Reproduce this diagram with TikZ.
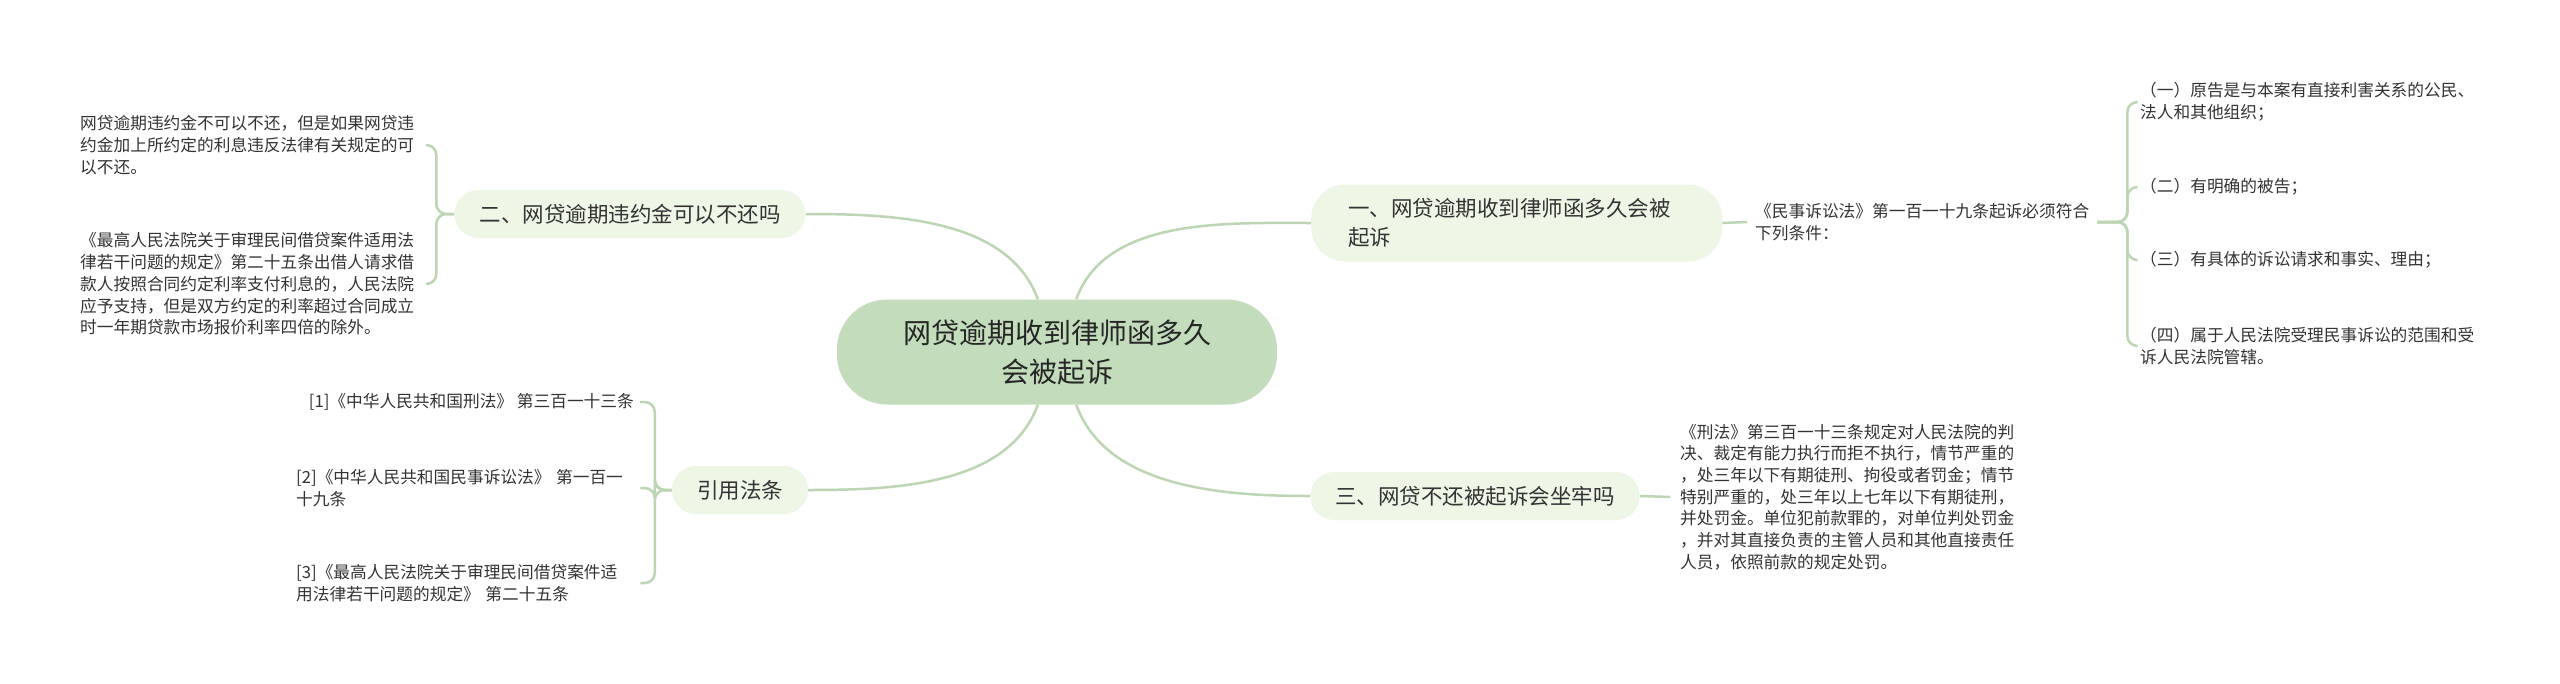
\documentclass[tikz,border=0pt]{standalone}
\usepackage{fontspec}
\setmainfont{Noto Sans CJK SC}
\usetikzlibrary{backgrounds}
\definecolor{rootfill}{HTML}{C2DCBC}
\definecolor{subfill}{HTML}{EEF6E6}
\definecolor{linkcol}{HTML}{BCD6B3}
\definecolor{txt}{HTML}{333333}
\begin{document}
\begin{tikzpicture}[x=1pt,y=1pt,
  root/.style={fill=rootfill,rounded corners=50pt,minimum width=440pt,minimum height=105pt,align=center,font=\fontsize{28}{39}\selectfont,text=black!85},
  sub/.style={fill=subfill,rounded corners=24pt,minimum height=48pt,inner xsep=25pt,font=\fontsize{21.5}{29}\selectfont,text=txt},
  leaf/.style={align=left,inner xsep=6pt,inner ysep=2pt,font=\fontsize{16.7}{21.7}\selectfont,text=txt},
  link/.style={draw=linkcol,line width=2.5pt},
  brace/.style={link,rounded corners=10pt}]
\useasboundingbox (0,0) rectangle (2560,-683);
\node[root] (root) at (1057,-352) {网贷逾期收到律师函多久\\会被起诉};
\node[sub,anchor=west,align=left,text width=337pt,inner xsep=37pt,minimum height=77pt,rounded corners=34pt] (n1) at (1311,-223) {一、网贷逾期收到律师函多久会被\\起诉};
\node[sub] (n2) at (630,-214) {二、网贷逾期违约金可以不还吗};
\node[sub] (n3) at (1475,-496) {三、网贷不还被起诉会坐牢吗};
\node[sub] (n4) at (740,-490) {引用法条};
\node[leaf,anchor=west,inner xsep=8pt] (l1) at (1747,-222) {《民事诉讼法》第一百一十九条起诉必须符合\\下列条件：};
\node[leaf,anchor=west,inner xsep=4pt] (l11) at (2136,-102) {（一）原告是与本案有直接利害关系的公民、\\法人和其他组织；};
\node[leaf,anchor=west,inner xsep=4pt] (l12) at (2136,-187) {（二）有明确的被告；};
\node[leaf,anchor=west,inner xsep=4pt] (l13) at (2136,-260) {（三）有具体的诉讼请求和事实、理由；};
\node[leaf,anchor=west,inner xsep=4pt] (l14) at (2136,-346) {（四）属于人民法院受理民事诉讼的范围和受\\诉人民法院管辖。};
\node[leaf,anchor=west,inner xsep=10pt] (l3) at (1670,-497) {《刑法》第三百一十三条规定对人民法院的判\\决、裁定有能力执行而拒不执行，情节严重的\\，处三年以下有期徒刑、拘役或者罚金；情节\\特别严重的，处三年以上七年以下有期徒刑，\\并处罚金。单位犯前款罪的，对单位判处罚金\\，并对其直接负责的主管人员和其他直接责任\\人员，依照前款的规定处罚。};
\node[leaf,anchor=west,text width=338pt,inner xsep=8pt] (l21) at (72,-145) {网贷逾期违约金不可以不还，但是如果网贷违\\约金加上所约定的利息违反法律有关规定的可\\以不还。};
\node[leaf,anchor=west,text width=338pt,inner xsep=8pt] (l22) at (72,-284) {《最高人民法院关于审理民间借贷案件适用法\\律若干问题的规定》第二十五条出借人请求借\\款人按照合同约定利率支付利息的，人民法院\\应予支持，但是双方约定的利率超过合同成立\\时一年期贷款市场报价利率四倍的除外。};
\node[leaf,anchor=east] (l41) at (640,-402) {[1]《中华人民共和国刑法》 第三百一十三条};
\node[leaf,anchor=west,text width=338pt] (l42) at (290,-488) {[2]《中华人民共和国民事诉讼法》 第一百一\\十九条};
\node[leaf,anchor=west,text width=338pt] (l43) at (290,-583) {[3]《最高人民法院关于审理民间借贷案件适\\用法律若干问题的规定》 第二十五条};
\begin{scope}[on background layer]
\fill[white] (0,0) rectangle (2560,-683);
\draw[link] (root) to[out=70,in=180,looseness=.9] (n1);
\draw[link] (root) to[out=110,in=0,looseness=.9] (n2);
\draw[link] (root) to[out=-110,in=0,looseness=.9] (n4);
\draw[link] (root) to[out=-70,in=180,looseness=.9] (n3);
\draw[link] (n1.east) -- (l1.west);
\draw[link] (n3.east) -- (l3.west);
\foreach \l in {l11,l12,l13,l14} \draw[brace] (l1.east) -- ++(30,0) |- (\l.west);
\foreach \l in {l21,l22} \draw[brace] (n2.west) -- ++(-18,0) |- (\l.east);
\foreach \l in {l41,l42,l43} \draw[brace] (n4.west) -- ++(-17,0) |- (\l.east);
\end{scope}
\end{tikzpicture}
\end{document}
